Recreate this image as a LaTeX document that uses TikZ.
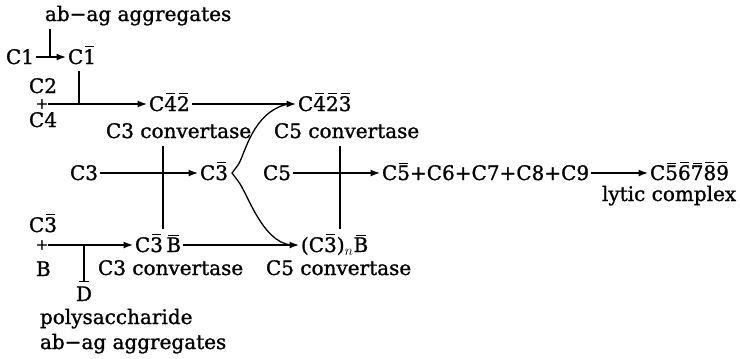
\documentclass[tikz,border=0pt]{standalone}
\usepackage{fontspec}
\setmainfont{DejaVu Serif}[FakeBold=1.2]
\usetikzlibrary{arrows.meta,calc}
\newcommand\ob[1]{\leavevmode\setbox0\hbox{#1}\rlap{\hbox to\wd0{\hss\rule[\dimexpr\ht0+2pt\relax]{0.72\wd0}{0.9pt}\hss}}\box0}
\begin{document}
\begin{tikzpicture}[x=1pt,y=-1pt,font=\fontsize{20}{24}\selectfont,
  txt/.style={inner sep=2pt,outer sep=0pt,anchor=base west},
  plus/.style={inner sep=0pt,font=\fontsize{15}{15}\selectfont},
  arr/.style={-{Latex[length=9.5pt,width=7pt]},line width=1.3pt},
  ln/.style={line width=1.3pt}]
\useasboundingbox (0,0) rectangle (740,359);
% row coordinates
\coordinate (r1) at (0,57);
\coordinate (r2) at (0,104);
\coordinate (r3) at (0,173);
\coordinate (r4) at (0,245);
\coordinate (v1) at (50,0);
\coordinate (v2) at (79,0);
\coordinate (v3) at (163,0);
\coordinate (v4) at (340,0);
% row 1
\node[txt] (ab1) at (43,21) {ab−ag aggregates};
\node[txt] (C1) at (4,64) {C1};
\node[txt] (C1b) at (66,64) {C\ob{1}};
\draw[arr] (C1.east |- r1) -- (C1b.west |- r1);
\draw[ln,shorten <=2pt] (ab1.south -| v1) -- (r1 -| v1);
% row 2
\node[txt] (C2) at (27,93) {C2};
\node[plus] (p1) at (42,104) {+};
\node[txt] (C4) at (27,127) {C4};
\node[txt] (C42) at (147,111) {C\ob{4}\ob{2}};
\node[txt] (C423) at (296,111) {C\ob{4}\ob{2}\ob{3}};
\draw[arr] (p1.east |- r2) -- (C42.west |- r2);
\draw[ln,shorten <=5pt] (C1b.south -| v2) -- (r2 -| v2);
\draw[arr] (C42.east |- r2) -- (C423.west |- r2);
\node[txt] (cv1) at (104,138) {C3 convertase};
\node[txt] (cv2) at (272,138) {C5 convertase};
% row 3
\node[txt] (C3) at (68,180) {C3};
\node[txt] (C3b) at (198,180) {C\ob{3}};
\draw[arr] (C3.east |- r3) -- (C3b.west |- r3);
\node[txt] (C5) at (261,180) {C5};
\node[txt] (C5p) at (380,180) {C\ob{5}+C6+C7+C8+C9};
\node[txt] (C5c) at (648,180) {C\ob{5}\ob{6}\ob{7}\ob{8}\ob{9}};
\draw[arr] (C5.east |- r3) -- (C5p.west |- r3);
\draw[arr] (C5p.east |- r3) -- (C5c.west |- r3);
\node[txt] (lytic) at (600,201) {lytic complex};
% row 4
\node[txt] (C3c) at (27,232) {C\ob{3}};
\node[plus] (p2) at (42,245) {+};
\node[txt] (B) at (34,276) {B};
\node[txt] (C3B) at (133,252) {C\ob{3}\,\ob{B}};
\node[txt] (Cn) at (299,252) {(C\ob{3})$_{n}$\ob{B}};
\draw[arr] (p2.east |- r4) -- (C3B.west |- r4);
\draw[arr] (C3B.east |- r4) -- (Cn.west |- r4);
\node[anchor=base,inner sep=2pt] (D) at (84,301) {D};
\draw[ln,-{Bar[width=10pt,line width=1.3pt]},shorten >=2pt] (r4 -| D.north) -- (D.north);
\node[txt] (cv3) at (96,275) {C3 convertase};
\node[txt] (cv4) at (264,275) {C5 convertase};
\node[txt] (poly) at (38,324) {polysaccharide};
\node[txt] (ab2) at (38,349) {ab−ag aggregates};
% verticals
\draw[ln,shorten <=6pt,shorten >=3pt] (cv1.south -| v3) -- (C3B.north -| v3);
\draw[ln,shorten <=6pt,shorten >=3pt] (cv2.south -| v4) -- (Cn.north -| v4);
% bracket and curves
\coordinate (bt) at ($(C3b.east |- r3)+(2,0)$);
\coordinate (bu) at ($(bt)+(6,-8)$);
\coordinate (bd) at ($(bt)+(6,8)$);
\draw[ln] (bu) -- (bt) -- (bd);
\draw[ln] (bu) .. controls ($(bu)+(7,-10)$) and ($(C423.west |- r2)+(-44,8)$) .. ($(C423.west |- r2)+(-8,0)$);
\draw[ln] (bd) .. controls ($(bd)+(9,11)$) and ($(Cn.west |- r4)+(-37,-3)$) .. ($(Cn.west |- r4)+(-8,0)$);
\end{tikzpicture}
\end{document}
